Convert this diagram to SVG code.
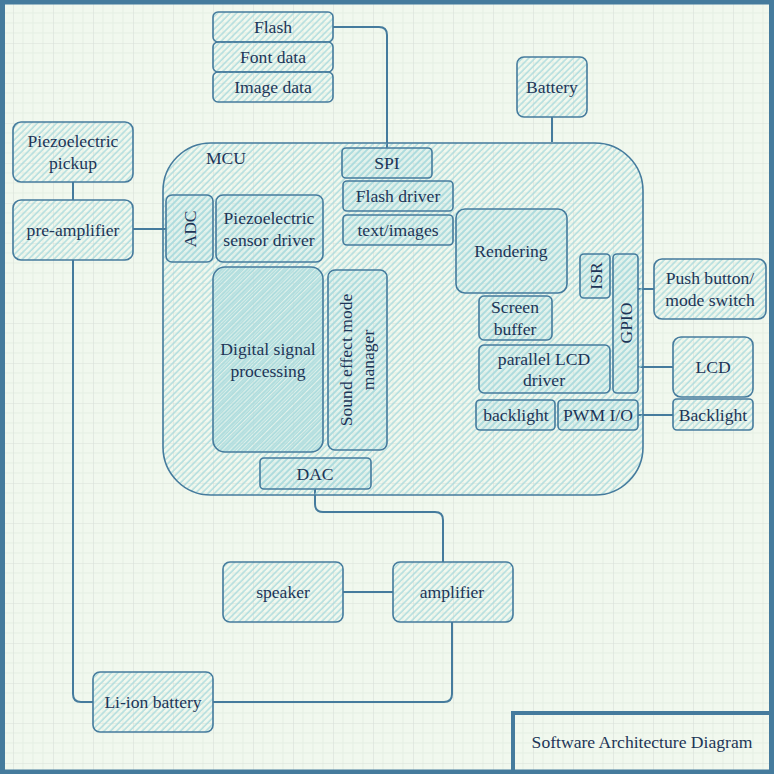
<svg xmlns="http://www.w3.org/2000/svg" width="774" height="774" viewBox="0 0 774 774">
<defs>
<pattern id="grid" patternUnits="userSpaceOnUse" x="13" y="3" width="40" height="40">
<path d="M10,0V40M20,0V40M30,0V40M0,10H40M0,20H40M0,30H40" stroke="#e5efe3" stroke-width="1" fill="none"/>
<path d="M0,0V40M0,0H40" stroke="#d9dfd8" stroke-width="1.2" fill="none"/>
</pattern>
<pattern id="hatch" patternUnits="userSpaceOnUse" width="4.5" height="4.5" patternTransform="rotate(45)">
<line x1="1" y1="0" x2="1" y2="4.5" stroke="#a8dadc" stroke-width="1.3"/>
</pattern>
<pattern id="hatch2" patternUnits="userSpaceOnUse" width="2.6" height="2.6" patternTransform="rotate(45)">
<line x1="1" y1="0" x2="1" y2="2.6" stroke="#a8dadc" stroke-width="1.2"/>
</pattern>
</defs>
<style>
.bx{fill:url(#hatch);stroke:#457b9d;stroke-width:1.6}
.in{fill:#bfe6e8;fill-opacity:0.3}
.t{font-family:'Liberation Serif','Times New Roman',serif;font-size:17.6px;fill:#1d3557;text-anchor:middle;dominant-baseline:central}
.c{fill:none;stroke:#457b9d;stroke-width:2;stroke-linejoin:round}
</style>
<rect width="774" height="774" fill="#f1f8ee"/>
<rect width="774" height="774" fill="url(#grid)"/>
<rect x="2.5" y="2" width="769" height="770" fill="none" stroke="#457b9d" stroke-width="5"/>

<g id="connectors">
<path class="c" d="M333,27H379Q387,27 387,35V148"/>
<path class="c" d="M552,117V142"/>
<path class="c" d="M73,182V200"/>
<path class="c" d="M133,229H166"/>
<path class="c" d="M73,260V694Q73,702 81,702H93"/>
<path class="c" d="M452,622V694Q452,702 444,702H213"/>
<path class="c" d="M315,489V504Q315,512 323,512H435Q443,512 443,520V562"/>
<path class="c" d="M343,592H393"/>
<path class="c" d="M638,289H654"/>
<path class="c" d="M638,367H673"/>
<path class="c" d="M638,415H673"/>
</g>

<g id="mcu"><rect class="bx" x="163" y="143" width="480" height="352" rx="48"/><text class="t" font-family="Liberation Serif, serif" x="226" y="158">MCU</text></g>

<g id="flash"><rect class="bx" x="213" y="12" width="120" height="30" rx="5"/><text class="t" font-family="Liberation Serif, serif" x="273" y="27">Flash</text></g>
<g id="fontdata"><rect class="bx" x="213" y="42" width="120" height="30" rx="5"/><text class="t" font-family="Liberation Serif, serif" x="273" y="57">Font data</text></g>
<g id="imagedata"><rect class="bx" x="213" y="72" width="120" height="30" rx="5"/><text class="t" font-family="Liberation Serif, serif" x="273" y="87">Image data</text></g>
<g id="battery"><rect class="bx" x="517" y="57" width="70" height="60" rx="7"/><text class="t" font-family="Liberation Serif, serif" x="552" y="87">Battery</text></g>
<g id="pickup"><rect class="bx" x="13" y="122" width="120" height="60" rx="8"/><text class="t" font-family="Liberation Serif, serif" x="73" y="141">Piezoelectric</text><text class="t" font-family="Liberation Serif, serif" x="73" y="163">pickup</text></g>
<g id="preamp"><rect class="bx" x="13" y="200" width="120" height="60" rx="8"/><text class="t" font-family="Liberation Serif, serif" x="73" y="230">pre-amplifier</text></g>

<g id="spi"><rect class="in" x="342" y="148" width="90" height="30" rx="4"/><rect class="bx" x="342" y="148" width="90" height="30" rx="4"/><text class="t" font-family="Liberation Serif, serif" x="387" y="163">SPI</text></g>
<g id="flashdriver"><rect class="in" x="343" y="181" width="110" height="30" rx="4"/><rect class="bx" x="343" y="181" width="110" height="30" rx="4"/><text class="t" font-family="Liberation Serif, serif" x="398" y="196">Flash driver</text></g>
<g id="textimages"><rect class="in" x="343" y="215" width="110" height="30" rx="4"/><rect class="bx" x="343" y="215" width="110" height="30" rx="4"/><text class="t" font-family="Liberation Serif, serif" x="398" y="230">text/images</text></g>
<g id="adc"><rect class="in" x="166" y="195" width="47" height="67" rx="6"/><rect class="bx" x="166" y="195" width="47" height="67" rx="6"/><text class="t" font-family="Liberation Serif, serif" transform="translate(190,229) rotate(-90)">ADC</text></g>
<g id="sensordriver"><rect class="in" x="216" y="195" width="107" height="67" rx="7"/><rect class="bx" x="216" y="195" width="107" height="67" rx="7"/><text class="t" font-family="Liberation Serif, serif" x="269" y="218">Piezoelectric</text><text class="t" font-family="Liberation Serif, serif" x="269" y="240">sensor driver</text></g>
<g id="dsp"><rect class="in" x="213" y="267" width="110" height="185" rx="12"/><rect class="bx" style="fill:url(#hatch2)" x="213" y="267" width="110" height="185" rx="12"/><text class="t" font-family="Liberation Serif, serif" x="268" y="349">Digital signal</text><text class="t" font-family="Liberation Serif, serif" x="268" y="371">processing</text></g>
<g id="soundmode"><rect class="in" x="328" y="270" width="59" height="180" rx="7"/><rect class="bx" x="328" y="270" width="59" height="180" rx="7"/><text class="t" font-family="Liberation Serif, serif" transform="translate(346,360) rotate(-90)">Sound effect mode</text><text class="t" font-family="Liberation Serif, serif" transform="translate(368,360) rotate(-90)">manager</text></g>
<g id="dac"><rect class="in" x="260" y="458" width="111" height="31" rx="4"/><rect class="bx" x="260" y="458" width="111" height="31" rx="4"/><text class="t" font-family="Liberation Serif, serif" x="315" y="474">DAC</text></g>
<g id="rendering"><rect class="in" x="456" y="209" width="111" height="84" rx="9"/><rect class="bx" x="456" y="209" width="111" height="84" rx="9"/><text class="t" font-family="Liberation Serif, serif" x="511" y="251">Rendering</text></g>
<g id="isr"><rect class="in" x="580" y="254" width="30" height="44" rx="4"/><rect class="bx" x="580" y="254" width="30" height="44" rx="4"/><text class="t" font-family="Liberation Serif, serif" transform="translate(596,276) rotate(-90)">ISR</text></g>
<g id="gpio"><rect class="in" x="613" y="254" width="25" height="139" rx="4"/><rect class="bx" x="613" y="254" width="25" height="139" rx="4"/><text class="t" font-family="Liberation Serif, serif" transform="translate(626,323) rotate(-90)">GPIO</text></g>
<g id="screenbuffer"><rect class="in" x="479" y="296" width="73" height="44" rx="5"/><rect class="bx" x="479" y="296" width="73" height="44" rx="5"/><text class="t" font-family="Liberation Serif, serif" x="515" y="307">Screen</text><text class="t" font-family="Liberation Serif, serif" x="515" y="329">buffer</text></g>
<g id="lcddriver"><rect class="in" x="479" y="345" width="131" height="48" rx="5"/><rect class="bx" x="479" y="345" width="131" height="48" rx="5"/><text class="t" font-family="Liberation Serif, serif" x="544" y="359">parallel LCD</text><text class="t" font-family="Liberation Serif, serif" x="544" y="380">driver</text></g>
<g id="backlight-in"><rect class="in" x="476" y="400" width="79" height="30" rx="4"/><rect class="bx" x="476" y="400" width="79" height="30" rx="4"/><text class="t" font-family="Liberation Serif, serif" x="516" y="415">backlight</text></g>
<g id="pwm"><rect class="in" x="558" y="400" width="80" height="30" rx="4"/><rect class="bx" x="558" y="400" width="80" height="30" rx="4"/><text class="t" font-family="Liberation Serif, serif" x="598" y="415">PWM I/O</text></g>

<g id="pushbutton"><rect class="bx" x="654" y="259" width="112" height="60" rx="8"/><text class="t" font-family="Liberation Serif, serif" x="710" y="278">Push button/</text><text class="t" font-family="Liberation Serif, serif" x="710" y="300">mode switch</text></g>
<g id="lcd"><rect class="bx" x="673" y="337" width="80" height="60" rx="8"/><text class="t" font-family="Liberation Serif, serif" x="713" y="367">LCD</text></g>
<g id="backlight"><rect class="bx" x="673" y="399" width="80" height="31" rx="4"/><text class="t" font-family="Liberation Serif, serif" x="713" y="415">Backlight</text></g>
<g id="speaker"><rect class="bx" x="223" y="562" width="120" height="60" rx="7"/><text class="t" font-family="Liberation Serif, serif" x="283" y="592">speaker</text></g>
<g id="amplifier"><rect class="bx" x="393" y="562" width="120" height="60" rx="7"/><text class="t" font-family="Liberation Serif, serif" x="452" y="592">amplifier</text></g>
<g id="liion"><rect class="bx" x="93" y="672" width="120" height="60" rx="7"/><text class="t" font-family="Liberation Serif, serif" x="153" y="702">Li-ion battery</text></g>

<g id="title"><path d="M513,774V713H774" fill="none" stroke="#457b9d" stroke-width="4"/><text class="t" font-family="Liberation Serif, serif" x="642" y="742" style="font-size:17.6px">Software Architecture Diagram</text></g>
</svg>
